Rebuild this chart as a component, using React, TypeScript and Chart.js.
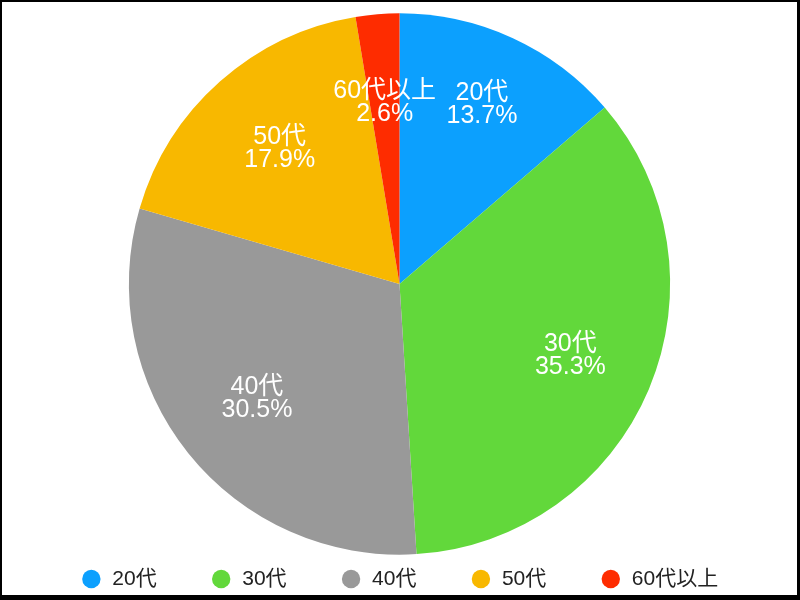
import { useEffect, useRef } from 'react';
import { Chart, registerables } from 'chart.js';

Chart.register(...registerables);

// ---- data ----
const categories = ['20代', '30代', '40代', '50代', '60代以上'];
const shares = [13.7, 35.3, 30.5, 17.9, 2.6];
const sliceColors = ['#0CA0FE', '#62D83B', '#999999', '#F8B800', '#FE2C00'];

// ---- styles ----
const FONT = "'Liberation Sans', 'Noto Sans CJK JP', sans-serif";
const LABEL_RADIUS = [0.73, 0.685, 0.675, 0.667, 0.672];
const LEGEND_GAP = 54;
const LEGEND_H = 32;
const LEGEND_TOP_PAD = 5.5;

const sliceLabels = {
  id: 'sliceLabels',
  afterDatasetsDraw(chart: any) {
    const ctx = chart.ctx;
    const meta = chart.getDatasetMeta(0);
    const vals = chart.data.datasets[0].data;
    ctx.save();
    ctx.fillStyle = '#ffffff';
    ctx.font = `25px ${FONT}`;
    ctx.textAlign = 'center';
    ctx.textBaseline = 'middle';
    meta.data.forEach((arc: any, i: number) => {
      const { x, y, startAngle, endAngle, outerRadius } = arc.getProps(
        ['x', 'y', 'startAngle', 'endAngle', 'outerRadius'],
        true
      );
      const mid = (startAngle + endAngle) / 2;
      const r = outerRadius * (LABEL_RADIUS[i] ?? 0.67);
      const cx = x + Math.cos(mid) * r;
      const cy = y + Math.sin(mid) * r;
      ctx.fillText(String(chart.data.labels[i]), cx, cy - 11.5);
      ctx.fillText(`${Number(vals[i]).toFixed(1)}%`, cx, cy + 11.5);
    });
    ctx.restore();
  },
};

// legend: wide horizontal gaps, compact height
const legendSpacing = {
  id: 'legendSpacing',
  beforeLayout(chart: any) {
    const lg = chart.legend;
    if (!lg || lg.__patched) return;
    lg.__patched = true;
    const fit = lg.fit;
    lg.fit = function (this: any) {
      fit.call(this);
      this.height = LEGEND_H;
    };
    const draw = lg.draw;
    lg.draw = function (this: any, ...args: any[]) {
      const t = this.top;
      this.top = t + LEGEND_TOP_PAD - LEGEND_GAP;
      draw.apply(this, args);
      this.top = t;
    };
  },
};

export default function App() {
  const ref = useRef<HTMLCanvasElement>(null);
  useEffect(() => {
    const chart = new Chart(ref.current as HTMLCanvasElement, {
      type: 'pie',
      data: {
        labels: categories,
        datasets: [
          {
            data: shares,
            backgroundColor: sliceColors,
            borderWidth: 0,
            radius: '97%',
          } as any,
        ],
      },
      options: {
        responsive: false,
        animation: false,
        events: [],
        layout: { padding: { top: 3, bottom: 0, left: 0, right: 0 } },
        plugins: {
          legend: {
            position: 'bottom',
            labels: {
              usePointStyle: true,
              pointStyle: 'circle',
              boxHeight: 13,
              padding: LEGEND_GAP,
              color: '#222222',
              font: { size: 21, family: FONT },
            },
          },
          tooltip: { enabled: false },
        },
      },
      plugins: [sliceLabels, legendSpacing],
    });
    return () => chart.destroy();
  }, []);

  return (
    <div
      style={{
        position: 'absolute',
        left: 0,
        top: 0,
        width: 800,
        height: 600,
        boxSizing: 'border-box',
        borderStyle: 'solid',
        borderColor: '#000',
        borderWidth: '2px 3px 5px 2px',
        background: '#fff',
      }}
    >
      <canvas ref={ref} width={795} height={593} style={{ display: 'block', width: 795, height: 593 }} />
    </div>
  );
}
